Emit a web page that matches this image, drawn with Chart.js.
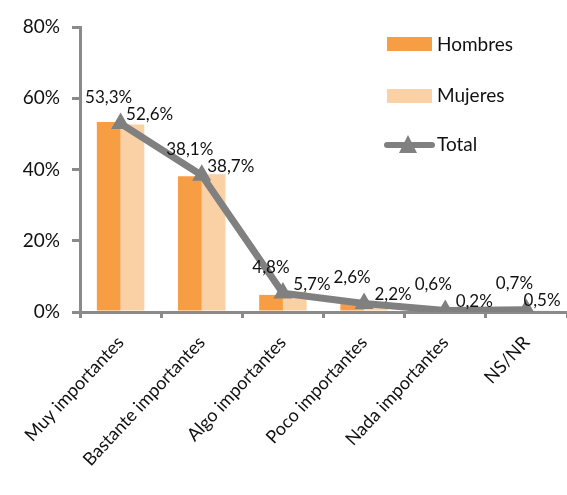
<!DOCTYPE html>
<html><head><meta charset="utf-8">
<script src="https://cdn.jsdelivr.net/npm/chart.js@4"></script>
<style>html,body{margin:0;padding:0;background:#fff}#wrap{width:567px;height:495px}</style>
</head><body><div id="wrap"><canvas id="c"></canvas></div>
<script>
const categories = ["Muy importantes","Bastante importantes","Algo importantes","Poco importantes","Nada importantes","NS/NR"];
const hombres = [53.3, 38.1, 4.8, 2.6, 0.6, 0.7];
const mujeres = [52.6, 38.7, 5.7, 2.2, 0.2, 0.5];
const total   = [52.9, 38.4, 5.3, 2.4, 0.4, 0.6];
const yTicks  = [0, 20, 40, 60, 80];

const C_H = '#F79E45', C_M = '#FAD0A5', C_T = '#808080', AX = '#8a8a8a';
const FONT = 'Lato, "Open Sans", sans-serif';
const fmt = v => v.toFixed(1).replace('.', ',') + '%';

const labelPlugin = {
  id: 'labels',
  afterDatasetsDraw(chart) {
    const ctx = chart.ctx;
    const tm = chart.getDatasetMeta(0);
    ctx.save();
    ctx.font = '17px ' + FONT;
    ctx.fillStyle = '#111';
    ctx.textAlign = 'center';
    ctx.textBaseline = 'middle';
    tm.data.forEach((p, i) => {
      ctx.fillText(fmt(hombres[i]), p.x - 12, p.y - 26);
      ctx.fillText(fmt(mujeres[i]), Math.min(p.x + 29, chart.width - 25), p.y - 9);
    });
    ctx.restore();
  }
};

const legendPlugin = {
  id: 'customLegend',
  afterDraw(chart) {
    const ctx = chart.ctx;
    ctx.save();
    ctx.font = '19px ' + FONT;
    ctx.textBaseline = 'middle';
    ctx.textAlign = 'left';
    ctx.fillStyle = C_H; ctx.fillRect(387, 37, 45, 14);
    ctx.fillStyle = C_M; ctx.fillRect(387, 89, 45, 14);
    ctx.strokeStyle = C_T; ctx.lineWidth = 6; ctx.lineCap = 'round';
    ctx.beginPath(); ctx.moveTo(387, 145); ctx.lineTo(432, 145); ctx.stroke();
    ctx.fillStyle = C_T;
    ctx.beginPath(); ctx.moveTo(408, 135); ctx.lineTo(417, 153); ctx.lineTo(399, 153); ctx.closePath(); ctx.fill();
    ctx.fillStyle = '#111';
    ctx.fillText('Hombres', 437, 45);
    ctx.fillText('Mujeres', 437, 96);
    ctx.fillText('Total', 437, 145);
    ctx.restore();
  }
};

new Chart(document.getElementById('c'), {
  data: {
    labels: categories,
    datasets: [
      { type: 'line', label: 'Total', data: total, borderColor: C_T, backgroundColor: C_T,
        borderWidth: 7, pointStyle: 'triangle', pointRadius: 11, pointBorderWidth: 0,
        pointBackgroundColor: C_T, tension: 0, order: 0 },
      { type: 'bar', label: 'Hombres', data: hombres, backgroundColor: C_H,
        categoryPercentage: 0.585, barPercentage: 1, order: 1 },
      { type: 'bar', label: 'Mujeres', data: mujeres, backgroundColor: C_M,
        categoryPercentage: 0.585, barPercentage: 1, order: 2 }
    ]
  },
  options: {
    responsive: true, maintainAspectRatio: false, animation: false,
    layout: { autoPadding: false, padding: { top: 27, right: -2, left: 0, bottom: 0 } },
    plugins: { legend: { display: false }, tooltip: { enabled: false } },
    scales: {
      x: {
        offset: true,
        grid: { display: true, drawOnChartArea: false, offset: true, color: AX, lineWidth: 3, tickLength: 6, tickWidth: 3 },
        border: { display: true, color: AX, width: 3 },
        ticks: { font: { size: 18, family: FONT }, color: '#111', maxRotation: 47, minRotation: 47, padding: 14 },
        afterFit: s => { s.height = 183; s.paddingLeft = 0; s.paddingRight = 0; }
      },
      y: {
        min: 0, max: 80,
        afterBuildTicks: s => { s.ticks = yTicks.map(v => ({ value: v })); },
        grid: { display: true, drawOnChartArea: false, color: AX, lineWidth: 3, tickLength: 8 },
        border: { display: true, color: AX, width: 3 },
        ticks: { font: { size: 19, family: FONT }, color: '#111', padding: 12, callback: v => v + '%' },
        afterFit: s => { s.width = 80; }
      }
    }
  },
  plugins: [labelPlugin, legendPlugin]
});
</script></body></html>
